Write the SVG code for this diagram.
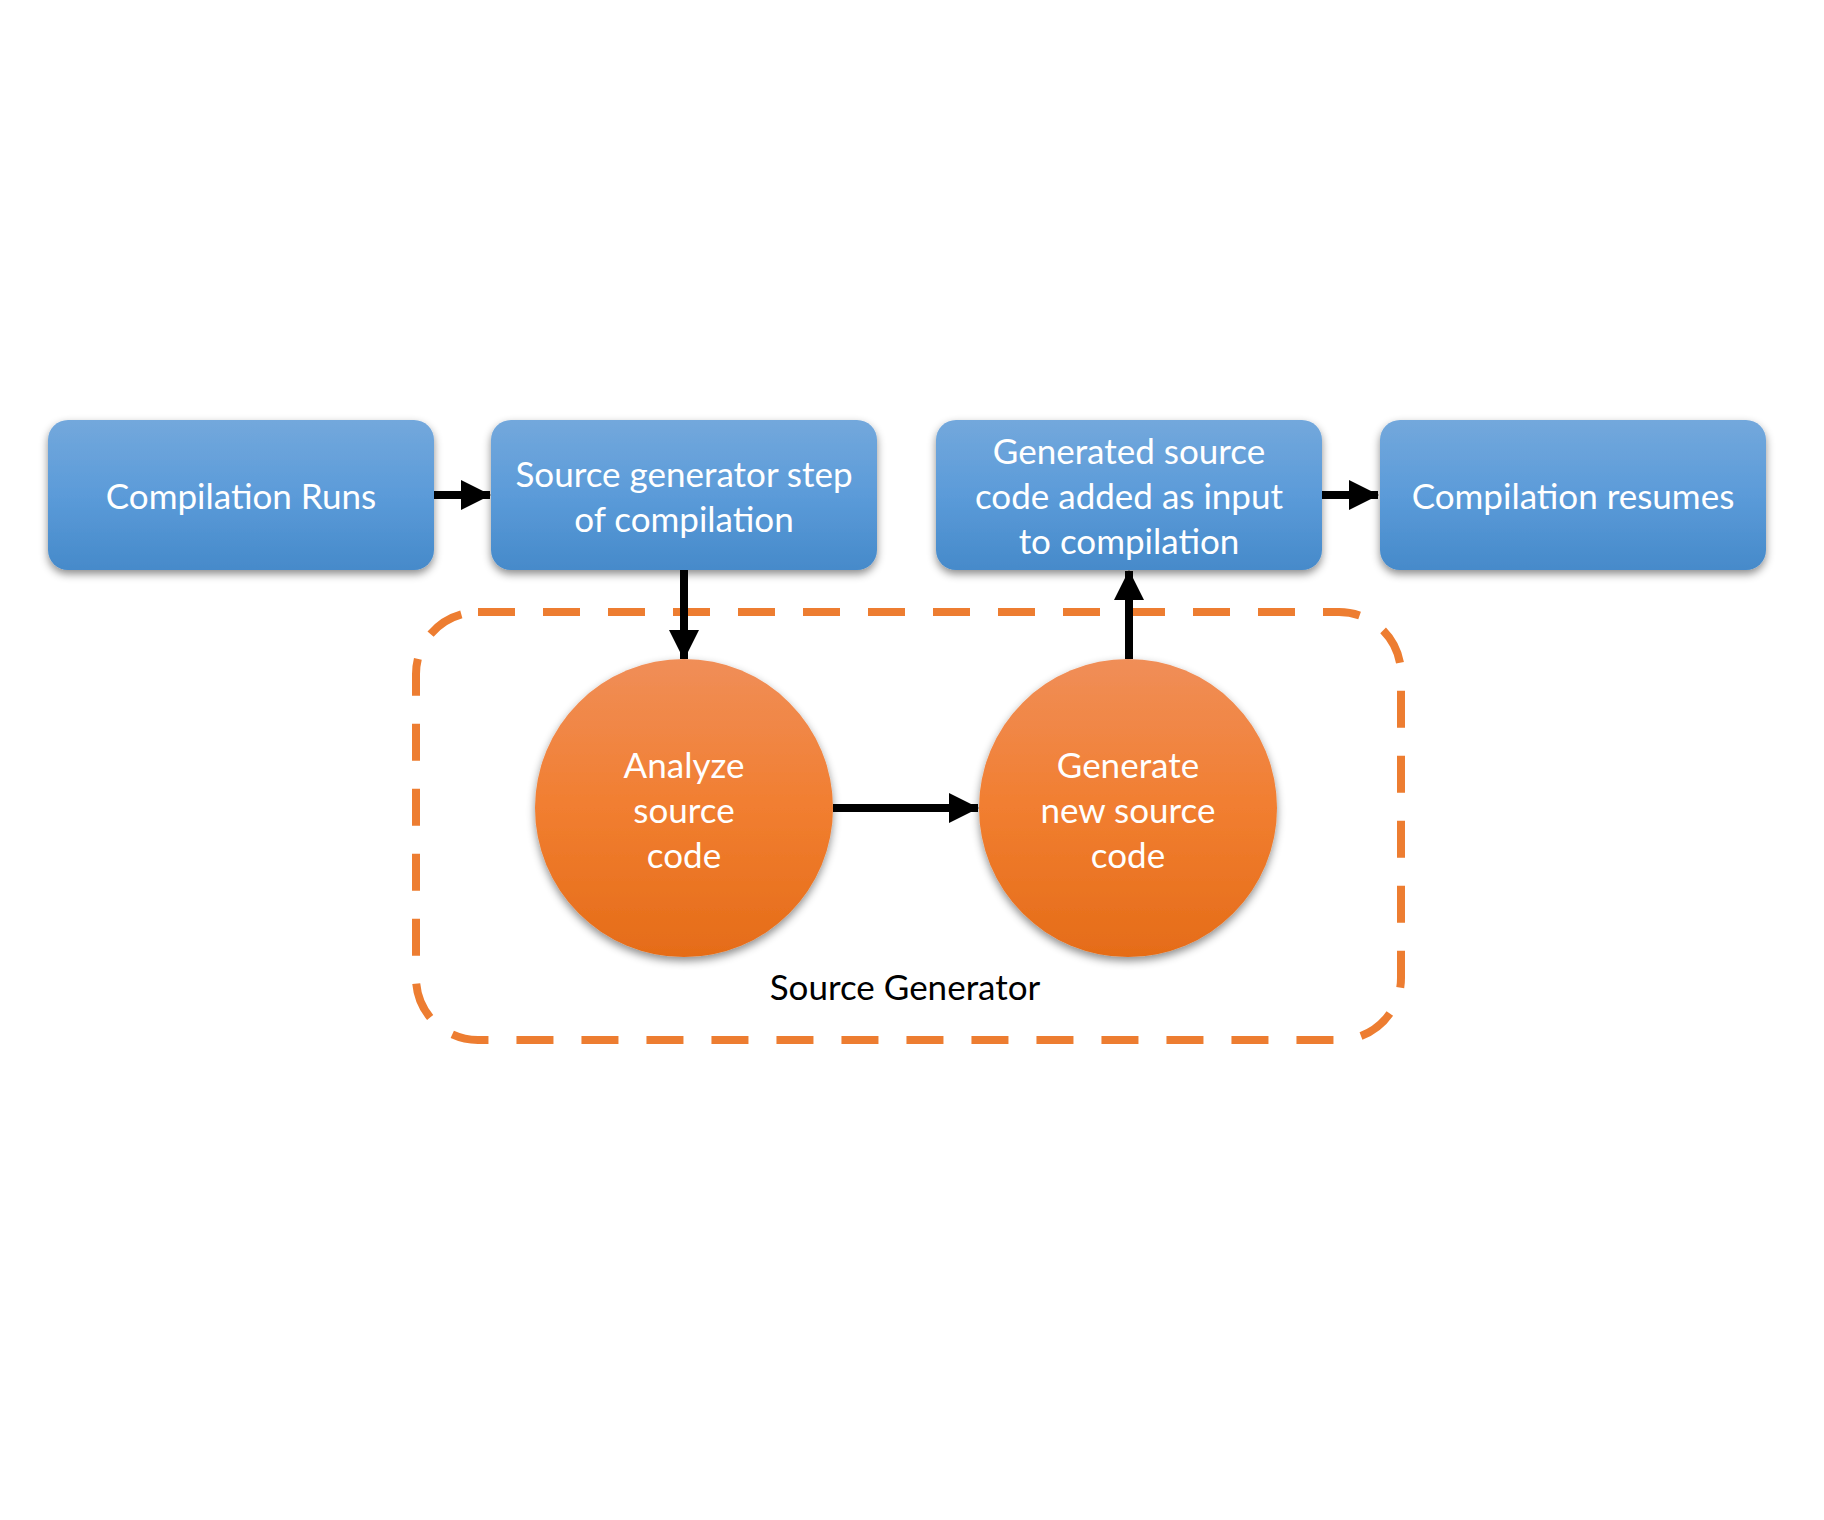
<svg xmlns="http://www.w3.org/2000/svg" width="1824" height="1520" viewBox="0 0 1824 1520">
  <style>
    .box { fill: url(#blueGrad); filter: url(#shadow); }
    .circ { fill: url(#orangeGrad); filter: url(#shadow); }
    .lbl { font-family: Lato, "Liberation Sans", sans-serif; font-size: 35px; fill: #ffffff; text-anchor: middle; }
    .cap { font-family: Lato, "Liberation Sans", sans-serif; font-size: 35px; fill: #000000; text-anchor: middle; }
    .conn { stroke: #000000; stroke-width: 8; fill: none; }
    .frame { fill: none; stroke: #ED7D31; stroke-width: 8; stroke-dasharray: 37 28; }
  </style>
  <defs>
    <linearGradient id="blueGrad" x1="0" y1="0" x2="0" y2="1">
      <stop offset="0" stop-color="#73A8DC"/>
      <stop offset="0.5" stop-color="#5B9BD9"/>
      <stop offset="1" stop-color="#468ACA"/>
    </linearGradient>
    <linearGradient id="orangeGrad" x1="0" y1="0" x2="0" y2="1">
      <stop offset="0" stop-color="#F08E58"/>
      <stop offset="0.5" stop-color="#F17E30"/>
      <stop offset="1" stop-color="#E56C18"/>
    </linearGradient>
    <filter id="shadow" x="-10%" y="-10%" width="120%" height="130%">
      <feDropShadow dx="0" dy="4" stdDeviation="4" flood-color="#000000" flood-opacity="0.45"/>
    </filter>
    <marker id="arrow" markerWidth="30" markerHeight="30" refX="29" refY="15" orient="auto" markerUnits="userSpaceOnUse">
      <path d="M0,0 L30,15 L0,30 Z" fill="#000000"/>
    </marker>
  </defs>

  <rect width="1824" height="1520" fill="#ffffff"/>

  <g id="source-generator-frame">
    <rect class="frame" x="416" y="612" width="985" height="428" rx="62" ry="62"/>
    <text class="cap" x="905" y="1000">Source Generator</text>
  </g>

  <g id="connectors">
    <line class="conn" x1="434" y1="495" x2="490" y2="495" marker-end="url(#arrow)"/>
    <line class="conn" x1="1322" y1="495" x2="1378" y2="495" marker-end="url(#arrow)"/>
    <line class="conn" x1="684" y1="570" x2="684" y2="659" marker-end="url(#arrow)"/>
    <line class="conn" x1="833" y1="808" x2="978" y2="808" marker-end="url(#arrow)"/>
    <line class="conn" x1="1129" y1="659" x2="1129" y2="571" marker-end="url(#arrow)"/>
  </g>

  <g id="compilation-runs">
    <rect class="box" x="48" y="420" width="386" height="150" rx="20" ry="20"/>
    <text class="lbl" x="241" y="509">Compilation Runs</text>
  </g>

  <g id="source-generator-step">
    <rect class="box" x="491" y="420" width="386" height="150" rx="20" ry="20"/>
    <text class="lbl" x="684" y="487">Source generator step</text>
    <text class="lbl" x="684" y="532">of compilation</text>
  </g>

  <g id="generated-source-added">
    <rect class="box" x="936" y="420" width="386" height="150" rx="20" ry="20"/>
    <text class="lbl" x="1129" y="464">Generated source</text>
    <text class="lbl" x="1129" y="509">code added as input</text>
    <text class="lbl" x="1129" y="554">to compilation</text>
  </g>

  <g id="compilation-resumes">
    <rect class="box" x="1380" y="420" width="386" height="150" rx="20" ry="20"/>
    <text class="lbl" x="1573" y="509">Compilation resumes</text>
  </g>

  <g id="analyze-source-code">
    <circle class="circ" cx="684" cy="808" r="149"/>
    <text class="lbl" x="684" y="778">Analyze</text>
    <text class="lbl" x="684" y="823">source</text>
    <text class="lbl" x="684" y="868">code</text>
  </g>

  <g id="generate-new-source-code">
    <circle class="circ" cx="1128" cy="808" r="149"/>
    <text class="lbl" x="1128" y="778">Generate</text>
    <text class="lbl" x="1128" y="823">new source</text>
    <text class="lbl" x="1128" y="868">code</text>
  </g>
</svg>
